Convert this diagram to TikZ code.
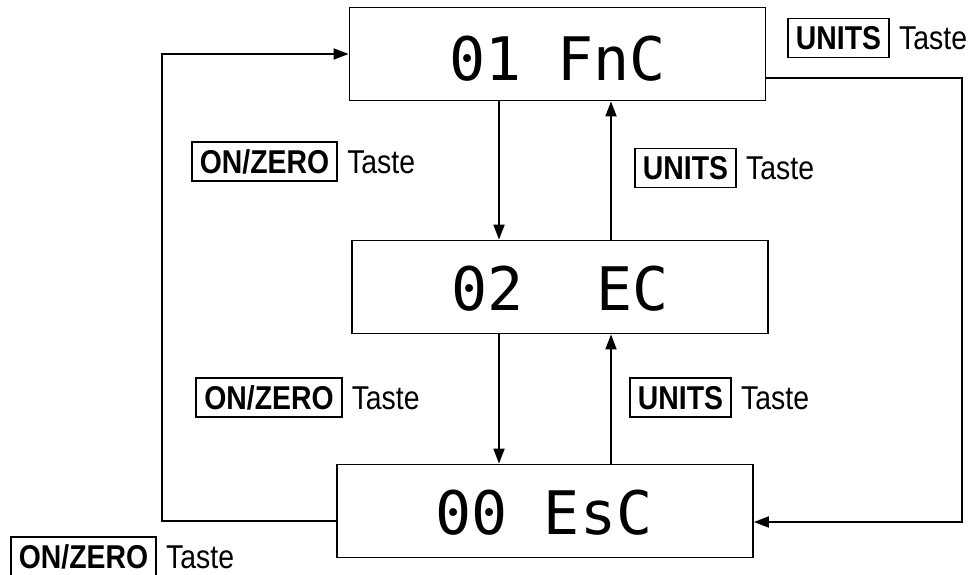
\documentclass[tikz,border=0pt]{standalone}
\usepackage{fontspec}
\setmainfont{Liberation Sans}[FakeStretch=0.86]
\newfontfamily\segfont{DejaVu Sans Mono}
\usetikzlibrary{arrows.meta,calc}
\begin{document}
\begin{tikzpicture}[x=1pt,y=-1pt,
  dispbox/.style={draw,line width=1.8pt,minimum width=416pt,minimum height=93pt,inner sep=0pt},
  disptext/.style={inner sep=0pt,font=\segfont\fontsize{60}{60}\selectfont},
  keybox/.style={draw,line width=1.8pt,inner xsep=8pt,minimum height=39pt,text height=23.5pt,text depth=0pt,font=\fontsize{33}{38}\selectfont\bfseries},
  taste/.style={inner sep=0pt,anchor=base west,font=\fontsize{33}{38}\selectfont},
  conn/.style={line width=1.8pt},
  arr/.style={conn,-{Triangle[length=15pt,width=11pt]}}]
\useasboundingbox (0,0) rectangle (979,575);
% display boxes
\node[dispbox] (b1) at (557.5,54) {};
\node[dispbox] (b2) at (560,287) {};
\node[dispbox] (b3) at (545,511) {};
\node[disptext] (t1) at (557.5,59) {01\ FnC};
\node[disptext] (t2) at (560,289) {02\ \ EC};
\node[disptext] (t3) at (544,513) {00\ EsC};
% helper coordinates
\coordinate (xl) at (499,0);
\coordinate (xr) at (611,0);
\coordinate (cornerL) at (162,54);
\coordinate (cornerR) at (962,300);
% vertical connectors
\draw[arr] (b1.south -| xl) -- (b2.north -| xl);
\draw[arr] (b2.north -| xr) -- (b1.south -| xr);
\draw[arr] (b2.south -| xl) -- (b3.north -| xl);
\draw[arr] (b3.north -| xr) -- (b2.south -| xr);
% loops
\draw[arr] ([yshift=-10pt]b3.west) -| (cornerL) -- (b1.west);
\draw[arr] ([yshift=-24pt]b1.east) -| (cornerR) |- ([yshift=-11pt]b3.east);
% key labels
\node[keybox] (k1) at (264.5,161.5) {ON/ZERO};
\node[taste] (s1) at ([xshift=9pt]k1.base east) {Taste};
\node[keybox] (k2) at (685.5,168) {UNITS};
\node[taste] (s2) at ([xshift=9pt]k2.base east) {Taste};
\node[keybox] (k3) at (269,397.5) {ON/ZERO};
\node[taste] (s3) at ([xshift=9pt]k3.base east) {Taste};
\node[keybox] (k4) at (680.5,397.5) {UNITS};
\node[taste] (s4) at ([xshift=9pt]k4.base east) {Taste};
\node[keybox] (k5) at (838.5,38) {UNITS};
\node[taste] (s5) at ([xshift=9pt]k5.base east) {Taste};
\node[keybox] (k6) at (83.5,556.5) {ON/ZERO};
\node[taste] (s6) at ([xshift=9pt]k6.base east) {Taste};
\end{tikzpicture}
\end{document}
